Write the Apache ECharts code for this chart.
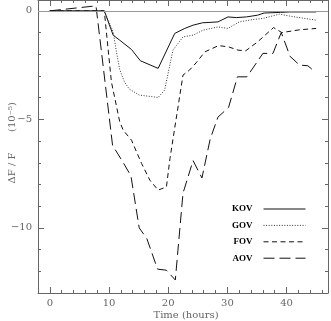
<!DOCTYPE html>
<html>
<head>
<meta charset="utf-8">
<script src="https://cdn.jsdelivr.net/npm/echarts@6/dist/echarts.min.js"></script>
<style>
  html, body { margin: 0; padding: 0; background: #fff; }
  #chart { width: 331px; height: 321px; }
</style>
</head>
<body>
<div id="chart"></div>
<script>
// time (hours), dF/F (1e-5)
let kov = [[0, 0], [9.2, 0], [10.7, -1.12], [11.8, -1.35], [13.8, -1.78], [15.3, -2.3], [18.3, -2.65],
    [21.1, -1.04], [22.8, -0.81], [24.2, -0.66], [25.8, -0.55], [28.4, -0.51], [30.1, -0.28], [31.5, -0.31],
    [33.2, -0.28], [35.1, -0.2], [36.2, -0.1], [39, -0.07], [40.5, -0.05], [45, -0.05]];
let gov = [[0, 0], [9.2, 0], [10.7, -0.97], [11.2, -1.8], [11.8, -2.7], [12.6, -3.27], [13.4, -3.6],
    [15.1, -3.88], [18.3, -3.99], [19.4, -3.65], [20.8, -1.81], [22.5, -1.2], [24.2, -1.12], [25.9, -0.89],
    [28.4, -0.74], [30.1, -0.81], [32, -0.51], [34.3, -0.4], [36, -0.35], [38.8, -0.15], [40.5, -0.24], [45, -0.43]];
let fov = [[0, 0], [9.2, 0], [10.4, -3.27], [11.8, -5.1], [12.4, -5.5], [13.8, -5.96], [15.5, -7.03],
    [16.9, -7.8], [18.3, -8.26], [19.7, -8.11], [20.3, -6.8], [22.5, -2.96], [23.6, -2.73], [24.7, -2.4],
    [26.2, -1.89], [28.5, -1.6], [30.2, -1.66], [31.8, -1.81], [33.1, -1.84], [35.1, -1.43], [37.8, -0.77],
    [39.2, -1.0], [42.3, -0.87], [45, -0.81]];
let aov = [[0, 0], [7.8, 0.23], [10.6, -6.2], [12.2, -6.9], [13.7, -7.6], [15.1, -10.0], [16.4, -10.5],
    [18.2, -11.9], [19.7, -11.95], [21.2, -12.4], [22.5, -8.4], [24.2, -6.9], [25.7, -7.7], [27.1, -5.9],
    [28.4, -4.9], [30.2, -4.45], [31.7, -3.04], [33.3, -3.04], [36, -1.96], [37.7, -1.96], [39.1, -1.0],
    [40.6, -2.1], [42.2, -2.5], [43.6, -2.53], [44.8, -2.81]];
let names = ['KOV', 'GOV', 'FOV', 'AOV'];

let xMin = -2, xMax = 47;
let yMin = -13, yMax = 0.5;

let axisColor = '#666';
let labelFont = {
    color: '#666',
    fontFamily: 'DejaVu Serif',
    fontSize: 10
};

function makeX(position, major, labels) {
    let ax = {
        type: 'value',
        position: position,
        min: xMin,
        max: xMax,
        axisLine: {show: major, onZero: false, lineStyle: {color: axisColor, width: 1}},
        axisTick: {show: true, inside: true, length: major ? 6 : 3, lineStyle: {color: axisColor}},
        splitLine: {show: false},
        axisLabel: {show: false}
    };
    if (major) {
        ax.minInterval = 10;
        ax.maxInterval = 10;
    } else {
        ax.interval = 2;
    }
    if (labels) {
        ax.axisLabel = Object.assign({
            show: true,
            margin: 5,
            formatter: function (v) {
                return v % 10 === 0 ? String(v) : '';
            }
        }, labelFont);
    }
    return ax;
}

function makeY(position, major, labels) {
    let ax = {
        type: 'value',
        position: position,
        min: yMin,
        max: yMax,
        axisLine: {show: major, onZero: false, lineStyle: {color: axisColor, width: 1}},
        axisTick: {show: true, inside: true, length: major ? 6 : 3, lineStyle: {color: axisColor}},
        splitLine: {show: false},
        axisLabel: {show: false}
    };
    if (major) {
        ax.minInterval = 5;
        ax.maxInterval = 5;
    } else {
        ax.interval = 1;
    }
    if (labels) {
        ax.axisLabel = Object.assign({
            show: true,
            margin: 6,
            formatter: function (v) {
                if (v % 5 !== 0) return '';
                return v < 0 ? '\u2212' + Math.abs(v) : String(v);
            }
        }, labelFont);
    }
    return ax;
}

let lineBase = {color: '#111', width: 1};

let dom = document.getElementById('chart');
let myChart = echarts.init(dom);
let option = {
    animation: false,
    color: ['#111', '#111', '#111', '#111'],
    grid: {left: 38, right: 1, top: 0, bottom: 28},
    xAxis: [
        makeX('bottom', true, true),
        makeX('bottom', false, false),
        makeX('top', true, false),
        makeX('top', false, false)
    ],
    yAxis: [
        makeY('left', true, true),
        makeY('left', false, false),
        makeY('right', true, false),
        makeY('right', false, false)
    ],
    legend: {
        data: names,
        orient: 'vertical',
        align: 'right',
        right: 20,
        top: 199,
        itemWidth: 42,
        itemHeight: 10,
        itemGap: 6.4,
        selectedMode: false,
        itemStyle: {opacity: 0},
        lineStyle: {width: 1},
        textStyle: {
            color: '#000',
            fontFamily: 'Liberation Serif',
            fontWeight: 'bold',
            fontSize: 9,
            lineHeight: 10,
            padding: [0, 6, 0, 0]
        }
    },
    graphic: [
        {
            type: 'text',
            x: 12, y: 168,
            rotation: Math.PI / 2,
            style: {text: '\u0394F / F', fill: '#666', font: '10px "DejaVu Serif"', align: 'center', verticalAlign: 'middle'}
        },
        {
            type: 'text',
            x: 12, y: 117,
            rotation: Math.PI / 2,
            style: {text: '(10\u207B\u2075)', fill: '#666', font: '10px "DejaVu Serif"', align: 'center', verticalAlign: 'middle'}
        },
        {
            type: 'text',
            x: 186, y: 315,
            style: {text: 'Time (hours)', fill: '#666', font: '10px "DejaVu Serif"', align: 'center', verticalAlign: 'middle'}
        }
    ],
    series: [
        {
            name: 'KOV',
            type: 'line',
            symbol: 'none',
            data: kov,
            lineStyle: Object.assign({type: 'solid'}, lineBase),
            markLine: {
                silent: true,
                symbol: 'none',
                label: {show: false},
                lineStyle: {color: '#999', type: 'solid', width: 1},
                data: [{yAxis: 0}]
            }
        },
        {
            name: 'GOV',
            type: 'line',
            symbol: 'none',
            data: gov,
            lineStyle: Object.assign({}, lineBase, {type: [1, 1.6], color: '#333'})
        },
        {
            name: 'FOV',
            type: 'line',
            symbol: 'none',
            data: fov,
            lineStyle: Object.assign({}, lineBase, {type: [5, 3.5]})
        },
        {
            name: 'AOV',
            type: 'line',
            symbol: 'none',
            data: aov,
            lineStyle: Object.assign({}, lineBase, {type: [11, 5]})
        }
    ]
};
myChart.setOption(option, true);
window.onresize = function () {
    myChart.resize();
};
</script>
</body>
</html>
